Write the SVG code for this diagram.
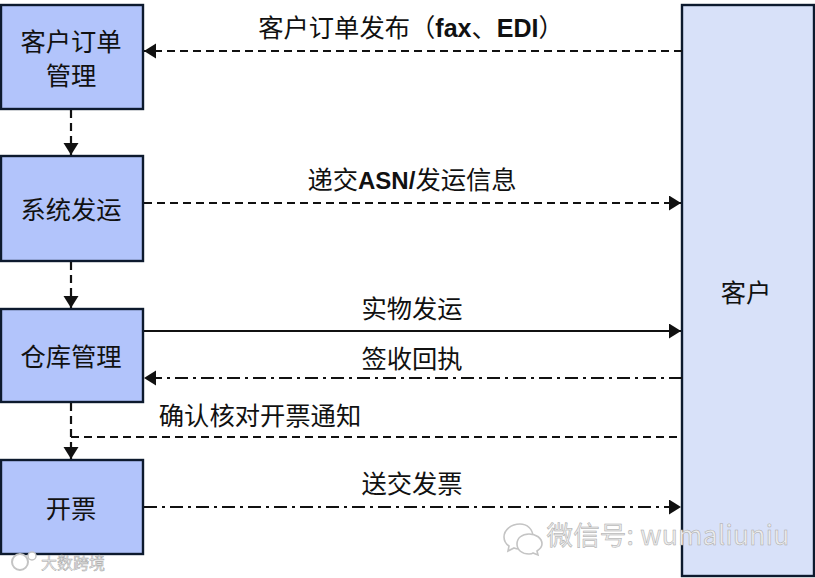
<svg xmlns="http://www.w3.org/2000/svg" width="815" height="578" viewBox="0 0 815 578">
<style>
.box{fill:#b2c4fb;stroke:#0d1a2e;stroke-width:2.4}
.cust{fill:#d8e1f9;stroke:#0d1a2e;stroke-width:2.4}
text{font-family:"Noto Sans CJK SC","Liberation Sans",sans-serif;fill:#111;font-size:25.3px;text-anchor:middle}
.lbl{font-family:"Liberation Sans","Noto Sans CJK SC",sans-serif}
.c{fill:none;stroke:#111;stroke-width:2.2}
.dash{stroke-dasharray:8 5}
.dd{stroke-dasharray:13 5 3 5}
.wm{fill:#ececec;stroke:#a8a8a8;stroke-width:.5}
.ic{fill:#fff;stroke:#c4c4c4;stroke-width:1.6}
</style>
<defs>
<marker id="a" markerUnits="userSpaceOnUse" markerWidth="13" markerHeight="16" refX="12" refY="7.5" orient="auto"><path d="M0 0L12 7.5L0 15Z" fill="#111"/></marker>
</defs>
<rect width="815" height="578" fill="#fff"/>
<g id="customer-order"><rect class="box" x="1" y="5" width="142" height="104"/><text x="71" y="51">客户订单</text><text x="71" y="85">管理</text></g>
<g id="shipping"><rect class="box" x="1" y="156" width="142" height="105"/><text x="71" y="219">系统发运</text></g>
<g id="warehouse"><rect class="box" x="1" y="309" width="142" height="93"/><text x="71" y="366">仓库管理</text></g>
<g id="invoice"><rect class="box" x="1" y="460" width="142" height="94"/><text x="71" y="518">开票</text></g>
<g id="customer"><rect class="cust" x="682" y="5" width="132" height="571"/><text x="746" y="302">客户</text></g>
<g id="connectors">
<path class="c dash" d="M682 51H144" marker-end="url(#a)"/>
<path class="c dash" d="M71 110V155" marker-end="url(#a)"/>
<path class="c dash" d="M144 203H681" marker-end="url(#a)"/>
<path class="c dash" d="M71 262V308" marker-end="url(#a)"/>
<path class="c" d="M144 331H681" marker-end="url(#a)"/>
<path class="c dd" d="M682 378H144" marker-end="url(#a)"/>
<path class="c dash" d="M71 403V459" marker-end="url(#a)"/>
<path class="c dash" d="M71 437H682"/>
<path class="c dd" d="M144 507H681" marker-end="url(#a)"/>
</g>
<g id="labels">
<text class="lbl" x="411" y="37">客户订单发布（<tspan font-weight="700" font-size="25">fax</tspan>、<tspan font-weight="700" font-size="25">EDI</tspan>）</text>
<text class="lbl" x="412" y="189">递交<tspan font-weight="700" font-size="24">ASN/</tspan>发运信息</text>
<text class="lbl" x="412" y="318">实物发运</text>
<text class="lbl" x="412" y="368">签收回执</text>
<text class="lbl" x="260" y="425">确认核对开票通知</text>
<text class="lbl" x="412" y="493">送交发票</text>
</g>
<g id="watermark">
<path class="ic" d="M520 524c-9 0-16 6-16 13 0 4 2 7 5 9l-1 5 6-3c2 1 4 1 6 1 0-7 6-12 13-12 0-8-6-13-13-13z"/>
<path class="ic" d="M529 534c-7 0-12 4-12 10s5 10 12 10c2 0 3 0 4-1l5 2-1-4c3-2 5-4 5-7 0-6-6-10-13-10z"/>
<text class="wm" x="668" y="545" style="font-size:26.5px;letter-spacing:.2px">微信号: wumaliuniu</text>
<circle class="ic" cx="20" cy="562" r="8" style="stroke-width:2"/>
<circle class="ic" cx="32" cy="556" r="4" style="stroke-width:1.5"/>
<text class="wm" x="73" y="569" style="font-size:16px">大数跨境</text>
</g>
</svg>
